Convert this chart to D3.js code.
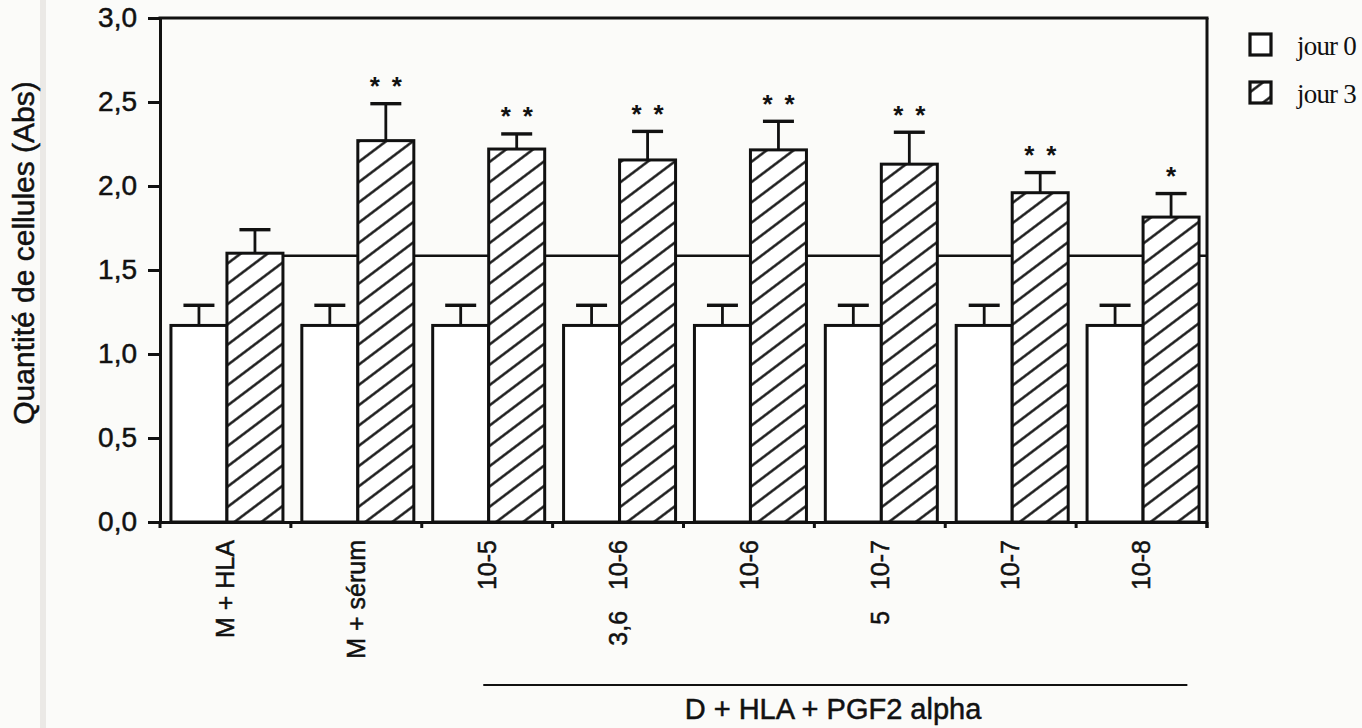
<!DOCTYPE html>
<html>
<head>
<meta charset="utf-8">
<script src="https://cdn.jsdelivr.net/npm/d3@7"></script>
<style>
  html, body { margin: 0; padding: 0; background: #fbfbf9; }
  svg { display: block; }
  .lbl { stroke: #111; stroke-width: 0.5px; paint-order: stroke; }
</style>
</head>
<body>
<svg id="chart" width="1362" height="728"></svg>
<script>
// Treatment groups (x-axis categories)
const categories = ["M + HLA", "M + sérum", "10-5", "3,6   10-6", "10-6", "5   10-7", "10-7", "10-8"];
const seriesNames = ["jour 0", "jour 3"];

// Cell quantity (absorbance), mean and SEM per group
const jour0 = [1.17, 1.17, 1.17, 1.17, 1.17, 1.17, 1.17, 1.17];
const jour0Err = [0.12, 0.12, 0.12, 0.12, 0.12, 0.12, 0.12, 0.12];
const jour3 = [1.60, 2.27, 2.22, 2.155, 2.215, 2.13, 1.96, 1.815];
const jour3Err = [0.14, 0.22, 0.09, 0.17, 0.17, 0.19, 0.12, 0.14];

// Significance markers above the day-3 bars
const significance = [0, 2, 2, 2, 2, 2, 2, 1];

// Horizontal reference level (control at day 3)
const referenceLevel = 1.585;

const yTicks = [0, 0.5, 1.0, 1.5, 2.0, 2.5, 3.0];
const groupTitle = "D + HLA + PGF2 alpha";
const yTitle = "Quantité de cellules (Abs)";

const svg = d3.select("#chart");
const plotLeft = 160, plotRight = 1207, plotTop = 18, plotBottom = 522;

// scan shading at the left margin
svg.append("rect").attr("x", 40).attr("y", 0).attr("width", 6).attr("height", 728).attr("fill", "#ebe9e6");

const x0 = d3.scaleBand().domain(categories).range([plotLeft, plotRight]).paddingInner(0).paddingOuter(0);
const x1 = d3.scaleBand().domain(seriesNames).range([0, x0.bandwidth()])
  .paddingInner(0).paddingOuter(0.1685).align(0.58);
const y = d3.scaleLinear().domain([0, 3]).range([plotBottom, plotTop]);

// diagonal hatch pattern
const defs = svg.append("defs");
const pat = defs.append("pattern").attr("id", "hatch")
  .attr("patternUnits", "userSpaceOnUse")
  .attr("width", 16.2).attr("height", 16.2)
  .attr("patternTransform", "rotate(-37)");
pat.append("rect").attr("width", 16.2).attr("height", 16.2).attr("fill", "#fff");
pat.append("line").attr("x1", -1).attr("x2", 17.2).attr("y1", 8.1).attr("y2", 8.1)
  .attr("stroke", "#111").attr("stroke-width", 2.4);

const ink = "#111";

// reference line across the plot
svg.append("line")
  .attr("x1", x0(categories[0]) + x1("jour 3") + x1.bandwidth() / 2)
  .attr("x2", plotRight)
  .attr("y1", y(referenceLevel)).attr("y2", y(referenceLevel))
  .attr("stroke", ink).attr("stroke-width", 2.6);

const rows = categories.map((c, i) => ({
  cat: c,
  bars: [
    { key: "jour 0", v: jour0[i], e: jour0Err[i] },
    { key: "jour 3", v: jour3[i], e: jour3Err[i] }
  ],
  stars: significance[i]
}));

const groups = svg.append("g").selectAll("g").data(rows).join("g")
  .attr("transform", d => `translate(${x0(d.cat)},0)`);

// error bars (upward only)
groups.selectAll("line.err").data(d => d.bars).join("line").attr("class", "err")
  .attr("x1", d => x1(d.key) + x1.bandwidth() / 2)
  .attr("x2", d => x1(d.key) + x1.bandwidth() / 2)
  .attr("y1", d => y(d.v)).attr("y2", d => y(d.v + d.e))
  .attr("stroke", ink).attr("stroke-width", 2.8);
groups.selectAll("line.cap").data(d => d.bars).join("line").attr("class", "cap")
  .attr("x1", d => x1(d.key) + x1.bandwidth() / 2 - 15.5)
  .attr("x2", d => x1(d.key) + x1.bandwidth() / 2 + 15.5)
  .attr("y1", d => y(d.v + d.e)).attr("y2", d => y(d.v + d.e))
  .attr("stroke", ink).attr("stroke-width", 3.4);

// bars
groups.selectAll("rect").data(d => d.bars).join("rect")
  .attr("x", d => x1(d.key))
  .attr("width", x1.bandwidth())
  .attr("y", d => y(d.v))
  .attr("height", d => y(0) - y(d.v))
  .attr("fill", d => d.key === "jour 0" ? "#fff" : "url(#hatch)")
  .attr("stroke", ink).attr("stroke-width", 3);

// significance asterisks
groups.each(function (d) {
  const b = d.bars[1];
  const cx = x1(b.key) + x1.bandwidth() / 2;
  const n = d.stars;
  for (let k = 0; k < n; k++) {
    d3.select(this).append("text")
      .attr("x", cx + (k - (n - 1) / 2) * 22)
      .attr("y", y(b.v + b.e) - 8.5)
      .attr("text-anchor", "middle")
      .attr("font-family", "Liberation Sans, Arial, sans-serif")
      .attr("font-weight", "bold")
      .attr("font-size", 26)
      .attr("fill", ink)
      .text("*");
  }
});

// y axis
const yAxis = svg.append("g").attr("transform", `translate(${plotLeft},0)`)
  .call(d3.axisLeft(y).tickValues(yTicks).tickSize(12).tickSizeOuter(0).tickPadding(11)
    .tickFormat(d => d3.format(".1f")(d).replace(".", ",")));
yAxis.select(".domain").attr("stroke", ink).attr("stroke-width", 3);
yAxis.selectAll(".tick line").attr("stroke", ink).attr("stroke-width", 3);
yAxis.selectAll(".tick text")
  .attr("class", "lbl")
  .attr("font-family", "Liberation Sans, Arial, sans-serif")
  .attr("font-size", 28).attr("fill", ink);

// x axis with rotated category labels
const xAxis = svg.append("g").attr("transform", `translate(0,${plotBottom})`)
  .call(d3.axisBottom(x0).tickSize(0).tickSizeOuter(0));
xAxis.select(".domain").attr("stroke", ink).attr("stroke-width", 3);
xAxis.selectAll(".tick text")
  .attr("class", "lbl")
  .attr("transform", "rotate(-90)")
  .attr("text-anchor", "end")
  .attr("x", -18).attr("y", 0).attr("dy", "0.35em")
  .style("white-space", "pre")
  .attr("font-family", "Liberation Sans, Arial, sans-serif")
  .attr("font-size", 25).attr("fill", ink);

// group boundary ticks
const bounds = categories.map(c => x0(c)).concat([plotRight]);
svg.append("g").selectAll("line").data(bounds).join("line")
  .attr("x1", d => d).attr("x2", d => d)
  .attr("y1", plotBottom).attr("y2", plotBottom + 6)
  .attr("stroke", ink).attr("stroke-width", 3);

// frame: top and right edges
svg.append("line").attr("x1", plotLeft - 1.5).attr("x2", plotRight + 1.5).attr("y1", plotTop).attr("y2", plotTop)
  .attr("stroke", ink).attr("stroke-width", 3);
svg.append("line").attr("x1", plotRight).attr("x2", plotRight).attr("y1", plotTop).attr("y2", plotBottom + 6)
  .attr("stroke", ink).attr("stroke-width", 3);

// y-axis title
svg.append("text")
  .attr("class", "lbl")
  .attr("transform", `translate(34,253) rotate(-90)`)
  .attr("text-anchor", "middle")
  .attr("font-family", "Liberation Sans, Arial, sans-serif")
  .attr("font-size", 30).attr("fill", ink)
  .text(yTitle);

// bracket line and caption for the PGF2 alpha groups
const bx1 = x0(categories[2]) + x0.bandwidth() * 0.47;
const bx2 = x0(categories[7]) + x0.bandwidth() * 0.85;
svg.append("line").attr("x1", bx1).attr("x2", bx2).attr("y1", 685).attr("y2", 685)
  .attr("stroke", ink).attr("stroke-width", 2.2);
svg.append("text")
  .attr("class", "lbl")
  .attr("x", 833).attr("y", 719)
  .attr("text-anchor", "middle")
  .attr("font-family", "Liberation Sans, Arial, sans-serif")
  .attr("font-size", 29).attr("fill", ink)
  .text(groupTitle);

// legend
const legend = svg.append("g").selectAll("g").data(seriesNames).join("g")
  .attr("transform", (d, i) => `translate(1250,${34 + i * 48})`);
legend.append("rect").attr("width", 21).attr("height", 21)
  .attr("fill", d => d === "jour 0" ? "#fff" : "url(#hatch)")
  .attr("stroke", ink).attr("stroke-width", 3.2);
legend.append("text")
  .attr("x", 47).attr("y", 21)
  .attr("font-family", "Liberation Serif, Times New Roman, serif")
  .attr("font-size", 27).attr("letter-spacing", -0.8).attr("fill", ink)
  .text(d => d);
</script>
</body>
</html>
